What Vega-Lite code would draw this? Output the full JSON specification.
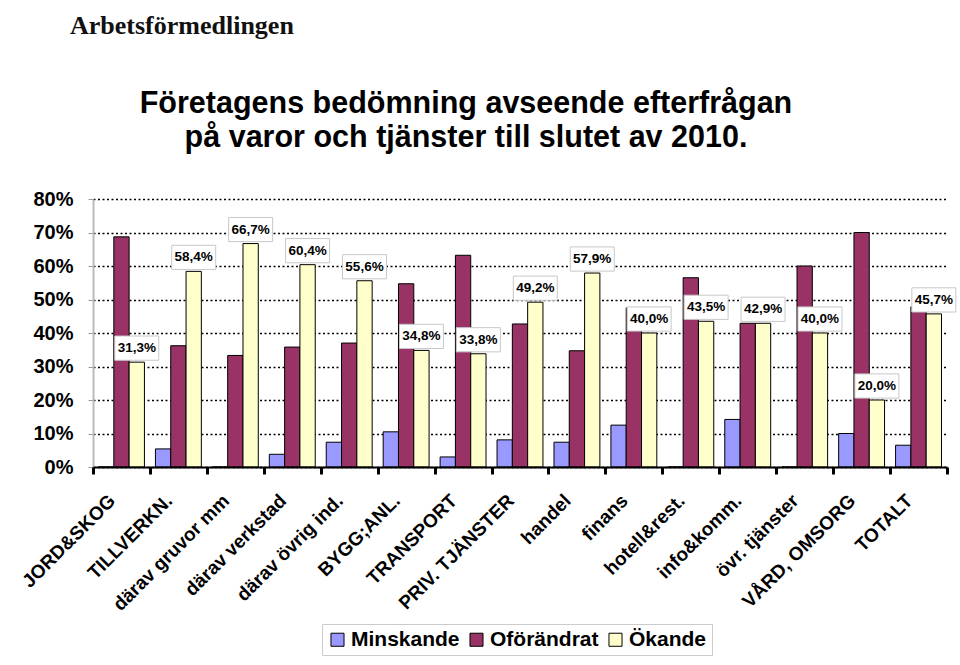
{
  "$schema": "https://vega.github.io/schema/vega-lite/v6.json",
  "padding": {"left": 18, "top": 12, "right": 5, "bottom": 5},
  "background": "white",
  "config": {
    "locale": {"number": {"decimal": ",", "thousands": " ", "grouping": [3], "currency": ["", " kr"]}},
    "font": "Liberation Sans",
    "view": {"stroke": null}
  },
  "title": {"text": "Arbetsförmedlingen", "font": "Liberation Serif", "fontSize": 26, "fontWeight": "bold", "anchor": "start", "frame": "group", "dx": -23, "color": "#111111", "offset": 50},
  "vconcat": [
    {
      "width": 854,
      "height": 268,
      "title": {"text": ["Företagens bedömning avseende efterfrågan", "på varor och tjänster till slutet av 2010."], "font": "Liberation Sans", "fontSize": 30.5, "fontWeight": "bold", "lineHeight": 34, "anchor": "middle", "dx": -54, "offset": 36, "color": "black"},
      "data": {"values": [
        {"kategori": "JORD&SKOG", "serie": "Minskande", "andel": 0.0},
        {"kategori": "JORD&SKOG", "serie": "Oförändrat", "andel": 0.687},
        {"kategori": "JORD&SKOG", "serie": "Ökande", "andel": 0.313},
        {"kategori": "TILLVERKN.", "serie": "Minskande", "andel": 0.054},
        {"kategori": "TILLVERKN.", "serie": "Oförändrat", "andel": 0.362},
        {"kategori": "TILLVERKN.", "serie": "Ökande", "andel": 0.584},
        {"kategori": "därav gruvor mm", "serie": "Minskande", "andel": 0.0},
        {"kategori": "därav gruvor mm", "serie": "Oförändrat", "andel": 0.333},
        {"kategori": "därav gruvor mm", "serie": "Ökande", "andel": 0.667},
        {"kategori": "därav verkstad", "serie": "Minskande", "andel": 0.038},
        {"kategori": "därav verkstad", "serie": "Oförändrat", "andel": 0.358},
        {"kategori": "därav verkstad", "serie": "Ökande", "andel": 0.604},
        {"kategori": "därav övrig ind.", "serie": "Minskande", "andel": 0.074},
        {"kategori": "därav övrig ind.", "serie": "Oförändrat", "andel": 0.370},
        {"kategori": "därav övrig ind.", "serie": "Ökande", "andel": 0.556},
        {"kategori": "BYGG;ANL.", "serie": "Minskande", "andel": 0.105},
        {"kategori": "BYGG;ANL.", "serie": "Oförändrat", "andel": 0.547},
        {"kategori": "BYGG;ANL.", "serie": "Ökande", "andel": 0.348},
        {"kategori": "TRANSPORT", "serie": "Minskande", "andel": 0.030},
        {"kategori": "TRANSPORT", "serie": "Oförändrat", "andel": 0.632},
        {"kategori": "TRANSPORT", "serie": "Ökande", "andel": 0.338},
        {"kategori": "PRIV. TJÄNSTER", "serie": "Minskande", "andel": 0.081},
        {"kategori": "PRIV. TJÄNSTER", "serie": "Oförändrat", "andel": 0.427},
        {"kategori": "PRIV. TJÄNSTER", "serie": "Ökande", "andel": 0.492},
        {"kategori": "handel", "serie": "Minskande", "andel": 0.074},
        {"kategori": "handel", "serie": "Oförändrat", "andel": 0.347},
        {"kategori": "handel", "serie": "Ökande", "andel": 0.579},
        {"kategori": "finans", "serie": "Minskande", "andel": 0.125},
        {"kategori": "finans", "serie": "Oförändrat", "andel": 0.475},
        {"kategori": "finans", "serie": "Ökande", "andel": 0.400},
        {"kategori": "hotell&rest.", "serie": "Minskande", "andel": 0.0},
        {"kategori": "hotell&rest.", "serie": "Oförändrat", "andel": 0.565},
        {"kategori": "hotell&rest.", "serie": "Ökande", "andel": 0.435},
        {"kategori": "info&komm.", "serie": "Minskande", "andel": 0.142},
        {"kategori": "info&komm.", "serie": "Oförändrat", "andel": 0.429},
        {"kategori": "info&komm.", "serie": "Ökande", "andel": 0.429},
        {"kategori": "övr. tjänster", "serie": "Minskande", "andel": 0.0},
        {"kategori": "övr. tjänster", "serie": "Oförändrat", "andel": 0.600},
        {"kategori": "övr. tjänster", "serie": "Ökande", "andel": 0.400},
        {"kategori": "VÅRD, OMSORG", "serie": "Minskande", "andel": 0.100},
        {"kategori": "VÅRD, OMSORG", "serie": "Oförändrat", "andel": 0.700},
        {"kategori": "VÅRD, OMSORG", "serie": "Ökande", "andel": 0.200},
        {"kategori": "TOTALT", "serie": "Minskande", "andel": 0.065},
        {"kategori": "TOTALT", "serie": "Oförändrat", "andel": 0.478},
        {"kategori": "TOTALT", "serie": "Ökande", "andel": 0.457}
      ]},
      "encoding": {
        "x": {
          "field": "kategori", "type": "nominal", "sort": null,
          "scale": {"paddingInner": 0, "paddingOuter": 0},
          "axis": {"title": null, "labelAngle": -45, "labelFontSize": 19, "labelFontWeight": "bold", "labelColor": "black", "tickBand": "extent", "tickColor": "black", "tickWidth": 3, "tickSize": 7, "domainColor": "black", "domainWidth": 2, "labelPadding": 17, "labelOffset": -16, "grid": false, "zindex": 1}
        },
        "xOffset": {"field": "serie", "type": "nominal", "scale": {"domain": ["Minskande", "Oförändrat", "Ökande"], "paddingInner": 0, "paddingOuter": 0.36}},
        "y": {
          "field": "andel", "type": "quantitative",
          "scale": {"domain": [0, 0.8]},
          "axis": {"title": null, "format": ".0%", "values": [0, 0.1, 0.2, 0.3, 0.4, 0.5, 0.6, 0.7, 0.8], "labelFontSize": 20, "labelFontWeight": "bold", "labelColor": "black", "domainColor": "#bbbbbb", "domainWidth": 2, "tickColor": "#999999", "tickSize": 5, "gridColor": "black", "gridDash": [2, 2.5], "gridWidth": 1.5, "labelPadding": 15}
        }
      },
      "layer": [
        {
          "mark": {"type": "bar", "stroke": "black", "strokeWidth": 1},
          "encoding": {
            "color": {
              "field": "serie", "type": "nominal",
              "scale": {"domain": ["Minskande", "Oförändrat", "Ökande"], "range": ["#9999FF", "#993366", "#FFFFCC"]},
              "legend": {"title": null, "orient": "none", "legendX": 229, "legendY": 425, "direction": "horizontal", "symbolType": "square", "symbolSize": 170, "symbolStrokeColor": "black", "symbolStrokeWidth": 1, "labelFontSize": 21, "labelFontWeight": "bold", "labelColor": "black", "strokeColor": "#cccccc", "fillColor": "white", "padding": 5, "columnPadding": 6, "labelOffset": 3}
            }
          }
        },
        {
          "transform": [{"filter": "datum.serie === 'Ökande'"}],
          "mark": {"type": "point", "shape": "M-1,-0.55H1V0.55H-1Z", "size": 1936, "filled": true, "fill": "white", "stroke": "#c8c8c8", "strokeWidth": 1, "opacity": 1, "yOffset": -14}
        },
        {
          "transform": [{"filter": "datum.serie === 'Ökande'"}],
          "mark": {"type": "text", "baseline": "middle", "dy": -14, "fontSize": 13.5, "fontWeight": "bold", "color": "black"},
          "encoding": {"text": {"field": "andel", "type": "quantitative", "format": ".1%"}}
        }
      ]
    }
  ]
}
